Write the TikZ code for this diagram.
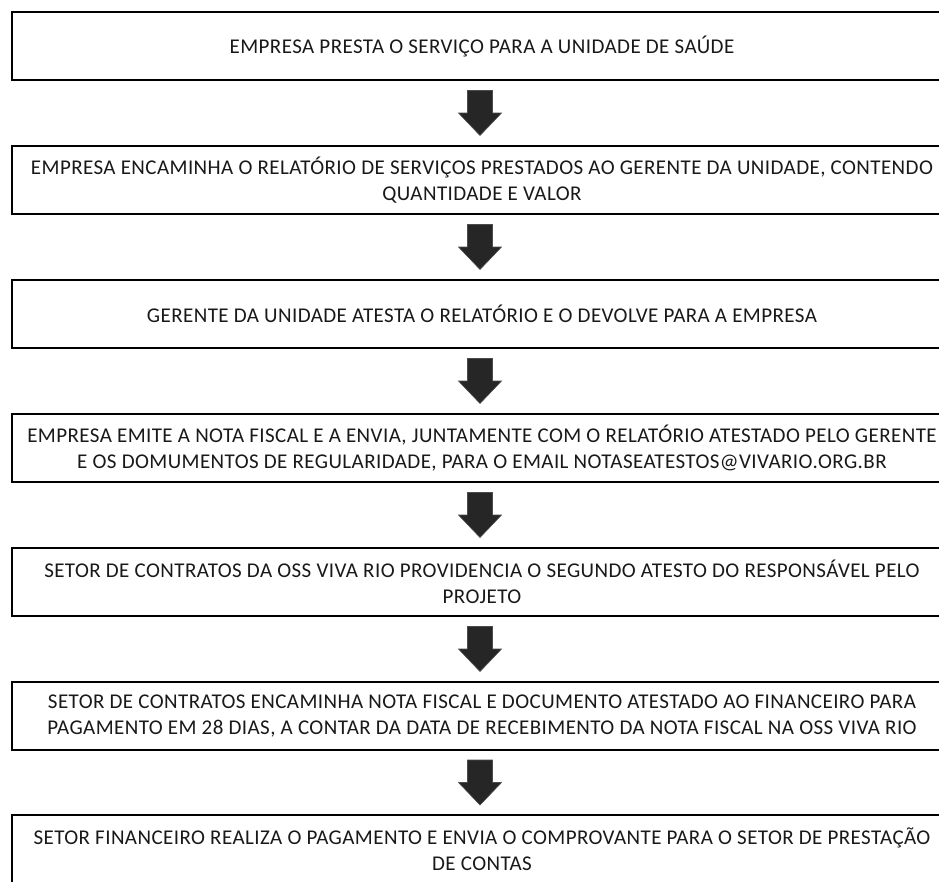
\documentclass[tikz,border=0pt]{standalone}
\usepackage{fontspec}
\setmainfont{Carlito}[LetterSpace=2.0]
\usetikzlibrary{calc}
\begin{document}
\begin{tikzpicture}[x=1pt,y=-1pt,
  stepbox/.style={draw=black,line width=1.6pt,minimum width=940pt,minimum height=68pt,
    inner sep=0pt,align=center,font=\fontsize{21}{26}\selectfont,text=black!90},
  flowarrow/.style={fill=black!85,draw=black!70,line width=0.6pt}]
\useasboundingbox (0,0) rectangle (939,881);
\fill[white] (0,0) rectangle (939,881);
\node[stepbox] (b1) at (482,46) {EMPRESA PRESTA O SERVIÇO PARA A UNIDADE DE SAÚDE};
\node[stepbox] (b2) at (482,180) {EMPRESA ENCAMINHA O RELATÓRIO DE SERVIÇOS PRESTADOS AO GERENTE DA UNIDADE, CONTENDO\\QUANTIDADE E VALOR};
\node[stepbox] (b3) at (482,314) {GERENTE DA UNIDADE ATESTA O RELATÓRIO E O DEVOLVE PARA A EMPRESA};
\node[stepbox] (b4) at (482,448) {EMPRESA EMITE A NOTA FISCAL E A ENVIA, JUNTAMENTE COM O RELATÓRIO ATESTADO PELO GERENTE\\E OS DOMUMENTOS DE REGULARIDADE, PARA O EMAIL NOTASEATESTOS@VIVARIO.ORG.BR};
\node[stepbox] (b5) at (482,582) {SETOR DE CONTRATOS DA OSS VIVA RIO PROVIDENCIA O SEGUNDO ATESTO DO RESPONSÁVEL PELO\\PROJETO};
\node[stepbox] (b6) at (482,716) {SETOR DE CONTRATOS ENCAMINHA NOTA FISCAL E DOCUMENTO ATESTADO AO FINANCEIRO PARA\\PAGAMENTO EM 28 DIAS, A CONTAR DA DATA DE RECEBIMENTO DA NOTA FISCAL NA OSS VIVA RIO};
\node[stepbox] (b7) at (482,849) {SETOR FINANCEIRO REALIZA O PAGAMENTO E ENVIA O COMPROVANTE PARA O SETOR DE PRESTAÇÃO\\DE CONTAS};
\foreach \i/\j in {1/2,2/3,3/4,4/5,5/6,6/7}{
  \coordinate (m\i) at ($(b\i.south)!0.5!(b\j.north)+(-2,0)$);
  \fill[flowarrow] ($(m\i)+(-12.5,-22.5)$) -- ($(m\i)+(12.5,-22.5)$) -- ($(m\i)+(12.5,0)$)
    -- ($(m\i)+(21.5,0)$) -- ($(m\i)+(0,22.5)$) -- ($(m\i)+(-21.5,0)$)
    -- ($(m\i)+(-12.5,0)$) -- cycle;
}
\end{tikzpicture}
\end{document}
